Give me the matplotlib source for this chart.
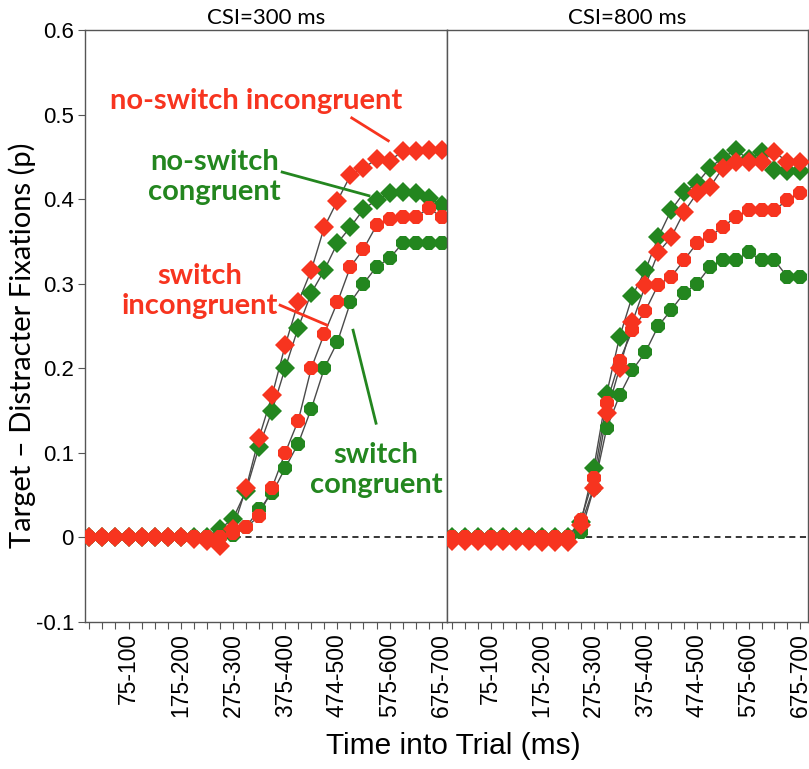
import numpy as np
import matplotlib
matplotlib.use("Agg")
import matplotlib.pyplot as plt
from matplotlib.ticker import FixedLocator, MultipleLocator

# 25 ms bins, 0-25 ... 675-700
n_bins = 28
bins = np.arange(n_bins)
tick_pos = [3, 7, 11, 15, 19, 23, 27]
tick_labels = ["75-100", "175-200", "275-300", "375-400", "474-500", "575-600", "675-700"]
panel_titles = ["CSI=300 ms", "CSI=800 ms"]

# CSI = 300 ms
left_ns_incong = [0, 0, 0, 0, 0, 0, 0, 0, -0.002, -0.004, -0.01, 0.01, 0.058, 0.118,
                  0.168, 0.227, 0.278, 0.316, 0.367, 0.398, 0.428, 0.437, 0.447, 0.445,
                  0.457, 0.457, 0.458, 0.458]
left_ns_cong = [0, 0, 0, 0, 0, 0, 0, 0, 0, 0, 0.01, 0.022, 0.055, 0.107,
                0.15, 0.2, 0.248, 0.289, 0.316, 0.348, 0.367, 0.388, 0.399, 0.407,
                0.408, 0.407, 0.401, 0.393]
left_s_incong = [0, 0, 0, 0, 0, 0, 0, 0, 0, 0, 0, 0.005, 0.012, 0.025,
                 0.059, 0.1, 0.138, 0.2, 0.241, 0.278, 0.32, 0.341, 0.369, 0.377,
                 0.379, 0.379, 0.389, 0.379]
left_s_cong = [0, 0, 0, 0, 0, 0, 0, 0, 0, 0, 0, 0.003, 0.012, 0.033,
               0.052, 0.082, 0.111, 0.152, 0.2, 0.231, 0.278, 0.3, 0.32, 0.33,
               0.348, 0.348, 0.348, 0.348]

# CSI = 800 ms
right_ns_incong = [-0.004, -0.004, -0.004, -0.004, -0.004, -0.004, -0.004, -0.005, -0.005, -0.005,
                   0.015, 0.059, 0.147, 0.2, 0.255, 0.298, 0.337, 0.355, 0.385, 0.407,
                   0.414, 0.437, 0.444, 0.444, 0.444, 0.456, 0.444, 0.444]
right_ns_cong = [0, 0, 0, 0, 0, 0, 0, 0, 0, 0, 0.018, 0.082, 0.17, 0.237,
                 0.286, 0.316, 0.355, 0.387, 0.408, 0.419, 0.437, 0.449, 0.458, 0.447,
                 0.456, 0.434, 0.433, 0.433]
right_s_incong = [0, 0, 0, 0, 0, 0, 0, 0, 0, 0, 0.021, 0.07, 0.159, 0.209,
                  0.245, 0.268, 0.299, 0.308, 0.328, 0.348, 0.356, 0.367, 0.379, 0.387,
                  0.387, 0.387, 0.399, 0.407]
right_s_cong = [0, 0, 0, 0, 0, 0, 0, 0, 0, 0, 0.006, 0.058, 0.129, 0.168,
                0.198, 0.219, 0.25, 0.269, 0.289, 0.3, 0.32, 0.328, 0.328, 0.337,
                0.328, 0.328, 0.308, 0.308]

RED = "#f7341f"
GREEN = "#23861f"
LINE = "#4a4a4a"
SPINE = "#555555"
TICK_FONT = "Liberation Sans"
LABEL_FONT = "Lato"

fig = plt.figure(figsize=(8.09, 7.69), dpi=100)
ax_l = fig.add_axes([0.1051, 0.1912, 0.4475, 0.7698])
ax_r = fig.add_axes([0.5525, 0.1912, 0.4462, 0.7698])


def draw_panel(ax, ns_incong, ns_cong, s_incong, s_cong, title, xlim):
    ax.axhline(0, color="black", lw=1.1, ls=(0, (4, 3)), zorder=1)
    series = [
        (ns_cong, GREEN, "D", 10),
        (s_cong, GREEN, "8", 10.5),
        (ns_incong, RED, "D", 10),
        (s_incong, RED, "8", 10.5),
    ]
    for vals, col, mk, ms in series:
        ax.plot(bins, vals, color=LINE, lw=1.0, zorder=2)
        ax.plot(bins, vals, ls="none", marker=mk, ms=ms, color=col,
                markeredgewidth=0, zorder=3)
    ax.set_xlim(*xlim)
    ax.set_ylim(-0.1, 0.6)
    ax.xaxis.set_major_locator(FixedLocator(tick_pos))
    ax.xaxis.set_minor_locator(MultipleLocator(1))
    ax.set_xticklabels(tick_labels, rotation=90, fontfamily=TICK_FONT, fontsize=16.5)
    ax.tick_params(axis="x", which="both", direction="out", length=5, width=0.8,
                   color=SPINE, pad=3)
    for sp in ax.spines.values():
        sp.set_color(SPINE)
        sp.set_linewidth(1.0)
    ax.set_title(title, fontfamily=LABEL_FONT, fontsize=16, pad=4)


draw_panel(ax_l, left_ns_incong, left_ns_cong, left_s_incong, left_s_cong,
           panel_titles[0], (-0.33, 27.4))
draw_panel(ax_r, right_ns_incong, right_ns_cong, right_s_incong, right_s_cong,
           panel_titles[1], (-0.38, 27.6))

ax_l.set_yticks([-0.1, 0, 0.1, 0.2, 0.3, 0.4, 0.5, 0.6])
ax_l.set_yticklabels(["-0.1", "0", "0.1", "0.2", "0.3", "0.4", "0.5", "0.6"],
                     fontfamily=TICK_FONT, fontsize=16)
ax_l.tick_params(axis="y", direction="out", length=5, width=0.8, color=SPINE, pad=3)
ax_r.set_yticks([])

# annotations on the CSI=300 panel
ann = dict(fontfamily=LABEL_FONT, fontweight="bold", fontsize=21,
           ha="center", va="center", linespacing=1.2)
ax_l.text(12.8, 0.516, "no-switch incongruent", color=RED, **ann)
ax_l.plot([20.1, 22.9], [0.496, 0.469], color=RED, lw=2, zorder=4)
ax_l.text(9.56, 0.426, "no-switch\ncongruent", color=GREEN, **ann)
ax_l.plot([14.77, 21.42], [0.432, 0.404], color=GREEN, lw=2, zorder=4)
ax_l.text(8.49, 0.291, "switch\nincongruent", color=RED, **ann)
ax_l.plot([14.61, 18.21], [0.2746, 0.251], color=RED, lw=2, zorder=4)
ax_l.text(21.96, 0.080, "switch\ncongruent", color=GREEN, **ann)
ax_l.plot([20.2, 21.96], [0.245, 0.135], color=GREEN, lw=2, zorder=4)

fig.text(22 / 809, 1 - 345 / 769, "Target \u2013 Distracter Fixations (p)",
         rotation=90, ha="center", va="center", fontfamily=LABEL_FONT, fontsize=21)
fig.text(453 / 809, 1 - 746 / 769, "Time into Trial (ms)",
         ha="center", va="center", fontfamily=TICK_FONT, fontsize=21.5)

fig.savefig("out.png", dpi=100)
